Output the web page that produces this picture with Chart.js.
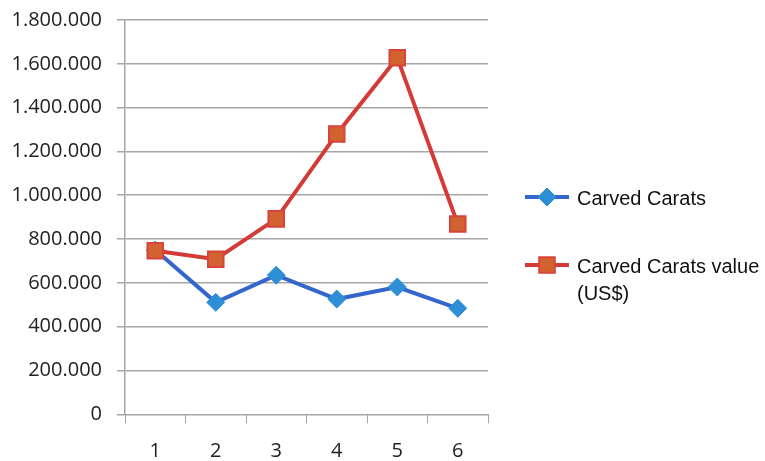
<!DOCTYPE html>
<html lang="en">
<head>
  <meta charset="UTF-8">
  <title>Carved Carats</title>
  <script src="https://cdn.jsdelivr.net/npm/chart.js"></script>
  <style>
    body {
      margin: 0;
      padding: 0;
      background-color: #fff;
    }
    #chart-container {
      width: 765px;
      height: 461px;
    }
  </style>
</head>
<body>
  <div id="chart-container">
    <canvas id="caratsChart"></canvas>
  </div>

  <script>
    const categories = ['1', '2', '3', '4', '5', '6'];
    const carvedCarats = [750000, 511000, 635000, 526000, 581000, 484000];
    const carvedCaratsValue = [747000, 708000, 892000, 1280000, 1628000, 869000];
    const seriesNames = ['Carved Carats', ['Carved Carats value', '(US$)']];
    const yMax = 1800000;
    const yStep = 200000;

    function formatThousands(v) {
      return String(v).replace(/\B(?=(\d{3})+(?!\d))/g, '.');
    }

    // legend drawn by hand so the long label can wrap like the original
    const sideLegend = {
      id: 'sideLegend',
      afterDraw(chart) {
        const ctx = chart.ctx;
        const rows = [197, 265];
        ctx.save();
        chart.data.datasets.forEach((ds, i) => {
          const y = rows[i];
          ctx.strokeStyle = ds.borderColor;
          ctx.lineWidth = 4;
          ctx.beginPath();
          ctx.moveTo(525, y);
          ctx.lineTo(569, y);
          ctx.stroke();
          ctx.fillStyle = ds.pointBackgroundColor;
          ctx.strokeStyle = ds.pointBorderColor;
          ctx.lineWidth = ds.pointBorderWidth;
          Chart.helpers.drawPoint(ctx, {
            pointStyle: ds.pointStyle,
            radius: ds.pointRadius,
            borderWidth: ds.pointBorderWidth
          }, 547, y);
          ctx.font = '20px "Liberation Sans", Arial, sans-serif';
          ctx.fillStyle = '#111';
          ctx.textBaseline = 'middle';
          const lines = [].concat(seriesNames[i]);
          lines.forEach((t, k) => ctx.fillText(t, 577, y + 2 + k * 27));
        });
        ctx.restore();
      }
    };

    const ctx = document.getElementById('caratsChart').getContext('2d');
    const caratsChart = new Chart(ctx, {
      type: 'line',
      data: {
        labels: categories,
        datasets: [{
          label: 'Carved Carats',
          data: carvedCarats,
          order: 1,
          borderColor: '#3467CC',
          borderWidth: 4,
          pointStyle: 'rectRot',
          pointRadius: 9,
          pointBackgroundColor: '#2E8FD6',
          pointBorderColor: '#2E8FD6',
          pointBorderWidth: 1,
          tension: 0
        }, {
          label: 'Carved Carats value (US$)',
          data: carvedCaratsValue,
          order: 0,
          borderColor: '#D43A36',
          borderWidth: 4,
          pointStyle: 'rect',
          pointRadius: 11,
          pointBackgroundColor: '#D2622F',
          pointBorderColor: '#D8433C',
          pointBorderWidth: 2,
          tension: 0
        }]
      },
      options: {
        responsive: true,
        maintainAspectRatio: false,
        animation: false,
        layout: {
          padding: { top: 20, right: 277, bottom: 0, left: 0 }
        },
        plugins: {
          legend: { display: false },
          tooltip: { enabled: false }
        },
        scales: {
          x: {
            offset: true,
            grid: {
              offset: true,
              drawOnChartArea: false,
              tickLength: 9,
              color: '#A6A6A6'
            },
            border: { color: '#A6A6A6' },
            ticks: {
              padding: 16,
              color: '#222',
              font: { family: '"Open Sans", sans-serif', size: 20 }
            },
            afterFit(scale) {
              scale.height = 46.7;
              scale.paddingLeft = 0;
              scale.paddingRight = 0;
            }
          },
          y: {
            min: 0,
            max: yMax,
            grid: {
              color: '#A6A6A6',
              tickLength: 8,
              lineWidth: 1.5
            },
            border: { color: '#A6A6A6', width: 1.5 },
            ticks: {
              stepSize: yStep,
              padding: 15,
              color: '#222',
              font: { family: '"Open Sans", sans-serif', size: 20 },
              callback: (v) => formatThousands(v)
            },
            afterFit(scale) {
              scale.width = 125;
              scale.paddingTop = 0;
              scale.paddingBottom = 0;
            }
          }
        }
      },
      plugins: [sideLegend]
    });
  </script>
</body>
</html>
